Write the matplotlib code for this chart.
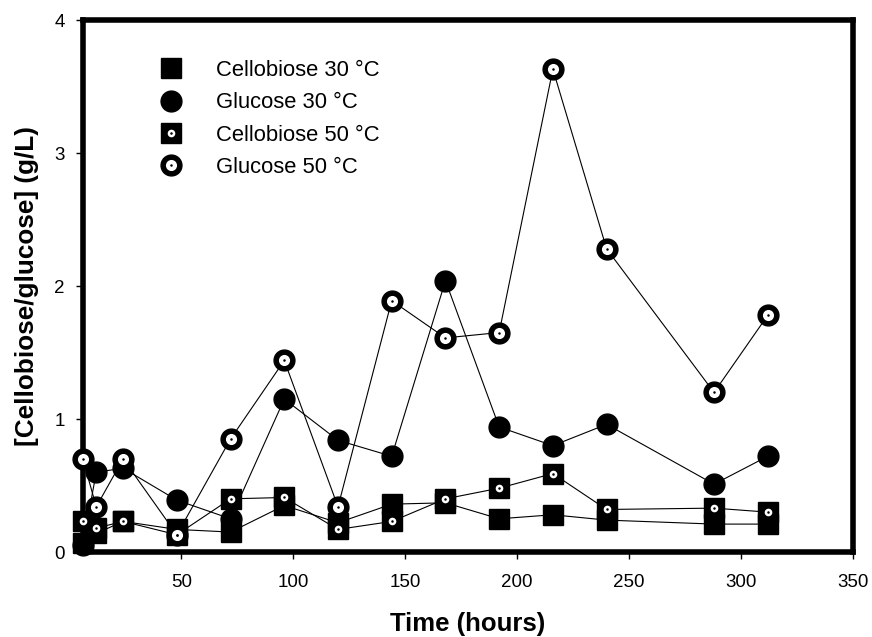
import numpy as np
import matplotlib.pyplot as plt

plt.rcParams['font.family'] = ['Liberation Sans', 'DejaVu Sans']

# time points (hours)
hours = [6, 12, 24, 48, 72, 96, 120, 144, 168, 192, 216, 240, 288, 312]

cello_30 = [0.07, 0.14, 0.23, 0.17, 0.15, 0.35, 0.22, 0.36, 0.37, 0.25, 0.28, 0.24, 0.21, 0.21]
gluc_30 = [0.05, 0.60, 0.63, 0.39, 0.25, 1.15, 0.84, 0.72, 2.04, 0.94, 0.80, 0.96, 0.51, 0.72]
cello_50 = [0.23, 0.18, 0.23, 0.13, 0.40, 0.41, 0.17, 0.23, 0.40, 0.48, 0.59, 0.32, 0.33, 0.30]
gluc_50 = [0.70, 0.34, 0.70, 0.13, 0.85, 1.44, 0.34, 1.89, 1.61, 1.65, 3.63, 2.28, 1.20, 1.78]

labels = ['Cellobiose 30 \u00b0C', 'Glucose 30 \u00b0C', 'Cellobiose 50 \u00b0C', 'Glucose 50 \u00b0C']

fig = plt.figure(figsize=(8.72, 6.37), dpi=100)
ax = fig.add_axes([0.095, 0.1334, 0.883, 0.8352])


def series(y, marker, dotted, ms):
    ax.plot(hours, y, color='k', lw=0.8, zorder=2)
    h = [ax.plot(hours, y, ls='none', marker=marker, ms=ms, mfc='k', mec='k',
                 clip_on=False, zorder=3)[0]]
    if dotted:
        inner = 8 if marker == 'o' else 5.5
        h.append(ax.plot(hours, y, ls='none', marker='o', ms=inner, mfc='white', mec='white',
                         mew=0, clip_on=False, zorder=4)[0])
        h.append(ax.plot(hours, y, ls='none', marker='o', ms=1.8, mfc='k', mec='k',
                         mew=0, clip_on=False, zorder=5)[0])
    return tuple(h)


handles = [series(cello_30, 's', False, 14),
           series(gluc_30, 'o', False, 15),
           series(cello_50, 's', True, 14),
           series(gluc_50, 'o', True, 15)]

ax.set_xlim(6, 350)
ax.set_ylim(0, 4)
ax.set_xticks([50, 100, 150, 200, 250, 300, 350])
ax.set_yticks([0, 1, 2, 3, 4])
ax.tick_params(direction='out', length=5, width=1, labelsize=13.5, top=False, right=False)
ax.tick_params(axis='x', pad=11)
ax.tick_params(axis='y', pad=8)
for s in ax.spines.values():
    s.set_linewidth(4)

ax.set_xlabel('Time (hours)', fontsize=18.5, fontweight='bold', labelpad=15)
ax.set_ylabel('[Cellobiose/glucose] (g/L)', fontsize=18.8, fontweight='bold', labelpad=11)

leg = ax.legend(handles, labels, loc='upper left', bbox_to_anchor=(0.1, 0.925), frameon=False,
                fontsize=15.8, handlelength=1.0, handletextpad=1.55, labelspacing=0.52,
                borderpad=0, borderaxespad=0, markerscale=1.0)

fig.savefig('out.png', dpi=100)
